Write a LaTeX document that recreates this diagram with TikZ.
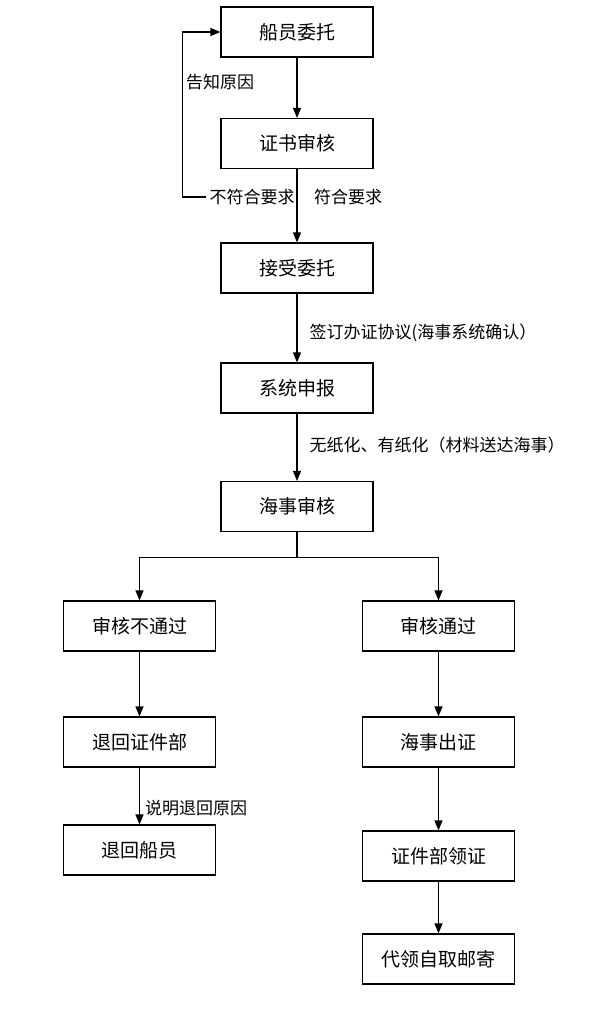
\documentclass[tikz,border=0pt]{standalone}
\usepackage{fontspec}
\setmainfont{Noto Sans CJK SC}
\usetikzlibrary{arrows.meta}

\tikzset{
  box/.style={draw, line width=1.2pt, minimum width=152pt, minimum height=50pt, inner sep=0pt, font=\fontsize{19}{19}\selectfont},
  lbl/.style={inner sep=3pt, font=\fontsize{17}{17}\selectfont},
  flow/.style={->, line width=1.2pt}
}

\begin{document}
\begin{tikzpicture}[x=1pt, y=-1pt, >={Triangle[length=10pt,width=8pt]}]
\useasboundingbox[fill=white] (0,0) rectangle (600,1012);
% main line
\node[box] (crew) at (297,32) {船员委托};
\node[box] (check) at (297,143.5) {证书审核};
\node[box] (accept) at (297,268) {接受委托};
\node[box] (report) at (297,388) {系统申报};
\node[box] (msa) at (297,506.5) {海事审核};
% two branches
\node[box] (fail) at (139.5,626) {审核不通过};
\node[box] (back) at (139.5,742) {退回证件部};
\node[box] (ret) at (139.5,850) {退回船员};
\node[box] (pass) at (438.5,626) {审核通过};
\node[box] (issue) at (438.5,742) {海事出证};
\node[box] (dept) at (438.5,856) {证件部领证};
\node[box] (post) at (438.5,959) {代领自取邮寄};
% labels
\node[lbl] (tell) at (220,82) {告知原因};
\node[lbl] (no) at (252,197) {不符合要求};
\node[lbl] (yes) at (348,197) {符合要求};
\node[lbl] (sign) at (423,333) {签订办证协议(海事系统确认）};
\node[lbl] (paper) at (437,445) {无纸化、有纸化（材料送达海事）};
\node[lbl] (why) at (196,808) {说明退回原因};

\draw[flow] (crew) -- (check);
\draw[flow] (check) -- (accept);
\draw[flow] (no.west) -- ++(-24,0) |- (crew.west);
\draw[flow] (accept) -- (report);
\draw[flow] (report) -- (msa);
\draw[line width=1.2pt] (msa.south) -- ++(0,25) coordinate (split);
\draw[flow] (split) -| (fail.north);
\draw[flow] (split) -| (pass.north);
\draw[flow] (fail) -- (back);
\draw[flow] (back) -- (ret);
\draw[flow] (pass) -- (issue);
\draw[flow] (issue) -- (dept);
\draw[flow] (dept) -- (post);
\end{tikzpicture}
\end{document}
